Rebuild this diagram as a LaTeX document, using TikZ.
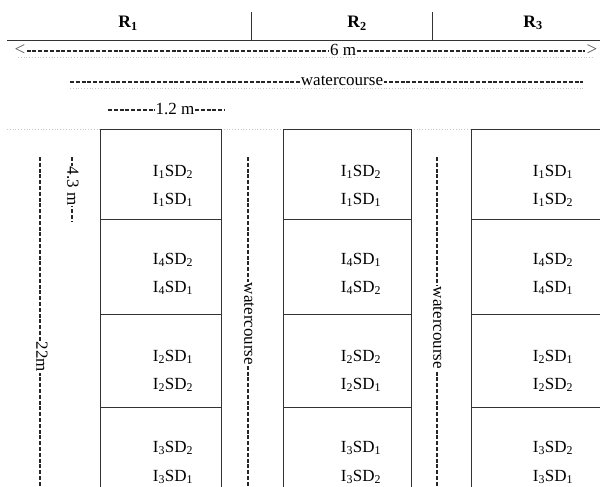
\documentclass[tikz,border=0pt]{standalone}
\usepackage{fontspec}
\setmainfont{Liberation Serif}
\newcommand{\plotlab}[2]{I\textsubscript{#1}SD\textsubscript{#2}}
\tikzset{
  txt/.style={font=\fontsize{17}{20}\selectfont, inner sep=1pt},
  hdr/.style={txt, font=\fontsize{17.5}{20}\selectfont\bfseries},
  lbl/.style={txt, fill=white},
  vlbl/.style={txt, fill=white, rotate=-90},
  hyph/.style={line width=1.2pt, dash pattern=on 4pt off 1.8pt, black!85},
  cellline/.style={line width=0.8pt, black!80},
  shadow/.style={gray!45, dotted, line width=0.8pt}
}
\begin{document}
\begin{tikzpicture}[x=1pt,y=-1pt]
\clip (0,0) rectangle (600,487);
\fill[white] (0,0) rectangle (600,487);
% header
\draw[cellline] (7,40) -- (600,40);
\draw[cellline] (251,12) -- (251,40);
\draw[cellline] (432,12) -- (432,40);
\node[hdr] (r1) at (128,23) {R\textsubscript{1}};
\node[hdr] (r2) at (357,23) {R\textsubscript{2}};
\node[hdr] (r3) at (533,23) {R\textsubscript{3}};
% faint shadows
\draw[shadow] (18,57) -- (594,57);
\draw[shadow] (70,88) -- (583,88);
\draw[shadow] (7,129) -- (100,129);
\draw[shadow] (221,129) -- (283,129);
\draw[shadow] (411,129) -- (471,129);
% 6 m
\node[txt, text=gray!70!black, font=\fontsize{19}{20}\selectfont] (lt) at (20,50) {<};
\node[txt, text=gray!70!black, font=\fontsize{19}{20}\selectfont] (gt) at (592,50) {>};
\draw[hyph] (lt.east |- 0,51) -- (gt.west |- 0,51);
\node[lbl] (sixm) at (343,50) {6 m};
% watercourse horizontal
\coordinate (wha) at (70,82);
\coordinate (whb) at (583,82);
\draw[hyph] (wha) -- (whb);
\node[lbl] (wh) at (342,81) {watercourse};
% 1.2 m
\coordinate (ta) at (108,110);
\coordinate (tb) at (225,110);
\draw[hyph] (ta) -- (tb);
\node[lbl] (twom) at (175,109) {1.2 m};
% vertical dims
\coordinate (la) at (40,157);
\coordinate (lb) at (40,495);
\draw[hyph] (la) -- (lb);
\node[vlbl] (len) at (42,357) {22m};
\coordinate (fa) at (72,157);
\coordinate (fb) at (72,222);
\draw[hyph] (fa) -- (fb);
\node[vlbl] (four) at (73,186) {4.3 m};
\coordinate (va) at (248,157);
\coordinate (vb) at (248,495);
\draw[hyph] (va) -- (vb);
\node[vlbl] (wv1) at (249,324) {watercourse};
\coordinate (ua) at (437,157);
\coordinate (ub) at (437,495);
\draw[hyph] (ua) -- (ub);
\node[vlbl] (wv2) at (438,328) {watercourse};
% plots
\foreach \xl/\xr in {100/221, 283/411, 471/610}{
  \foreach \yt/\yb in {129/219, 219/314, 314/407, 407/500}{
    \draw[cellline] (\xl,\yt) rectangle (\xr,\yb);
  }
}
% column 1
\node[txt] (a1t) at (173,172) {\plotlab{1}{2}};
\node[txt] (a1b) at (173,200) {\plotlab{1}{1}};
\node[txt] (a2t) at (173,260) {\plotlab{4}{2}};
\node[txt] (a2b) at (173,288) {\plotlab{4}{1}};
\node[txt] (a3t) at (173,357) {\plotlab{2}{1}};
\node[txt] (a3b) at (173,385) {\plotlab{2}{2}};
\node[txt] (a4t) at (173,448) {\plotlab{3}{2}};
\node[txt] (a4b) at (173,477) {\plotlab{3}{1}};
% column 2
\node[txt] (b1t) at (361,172) {\plotlab{1}{2}};
\node[txt] (b1b) at (361,200) {\plotlab{1}{1}};
\node[txt] (b2t) at (361,260) {\plotlab{4}{1}};
\node[txt] (b2b) at (361,288) {\plotlab{4}{2}};
\node[txt] (b3t) at (361,357) {\plotlab{2}{2}};
\node[txt] (b3b) at (361,385) {\plotlab{2}{1}};
\node[txt] (b4t) at (361,448) {\plotlab{3}{1}};
\node[txt] (b4b) at (361,477) {\plotlab{3}{2}};
% column 3
\node[txt] (c1t) at (553,172) {\plotlab{1}{1}};
\node[txt] (c1b) at (553,200) {\plotlab{1}{2}};
\node[txt] (c2t) at (553,260) {\plotlab{4}{2}};
\node[txt] (c2b) at (553,288) {\plotlab{4}{1}};
\node[txt] (c3t) at (553,357) {\plotlab{2}{1}};
\node[txt] (c3b) at (553,385) {\plotlab{2}{2}};
\node[txt] (c4t) at (553,448) {\plotlab{3}{2}};
\node[txt] (c4b) at (553,477) {\plotlab{3}{1}};
\end{tikzpicture}
\end{document}
